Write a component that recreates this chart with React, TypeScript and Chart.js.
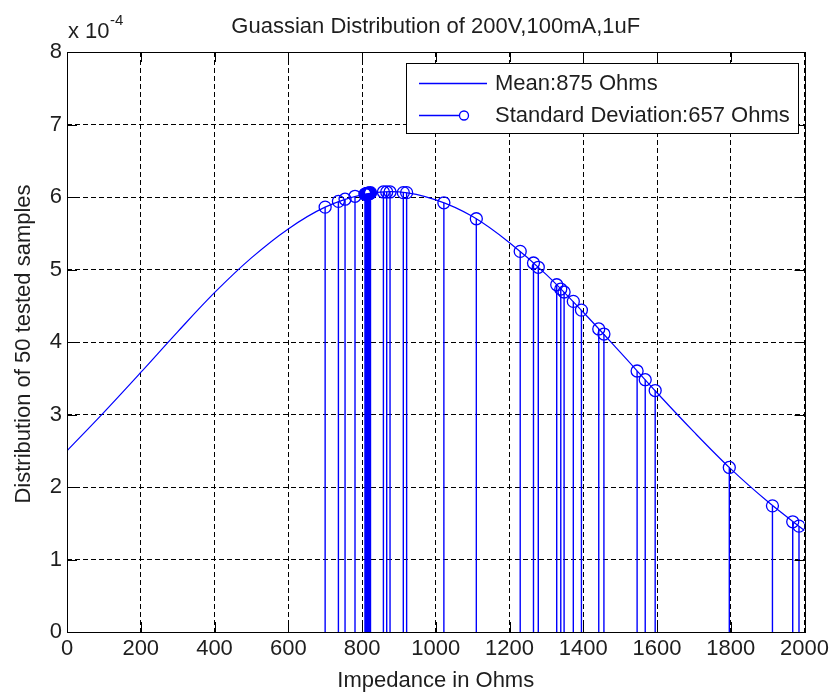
import React, { useEffect, useRef } from "react";
import { Chart, registerables } from "chart.js";

Chart.register(...registerables);

const TITLE = "Guassian Distribution of 200V,100mA,1uF";
const X_LABEL = "Impedance in Ohms";
const Y_LABEL = "Distribution of 50 tested samples";
const Y_EXP_BASE = "x 10";
const Y_EXP_POWER = "-4";
const LEGEND_MEAN = "Mean:875 Ohms";
const LEGEND_SD = "Standard Deviation:657 Ohms";

// Gaussian curve (y in units of 1e-4)
const curveX = [0, 100, 200, 300, 400, 500, 600, 700, 800, 900, 1000, 1100, 1200, 1300, 1400, 1500, 1600, 1700, 1800, 1900, 2000];
const curveY = [2.5, 3.03, 3.58, 4.14, 4.68, 5.16, 5.56, 5.86, 6.03, 6.07, 5.96, 5.73, 5.37, 4.93, 4.41, 3.86, 3.3, 2.76, 2.25, 1.8, 1.4];

// 50 tested samples (stems), y in units of 1e-4
const sampleX = [
  700, 736, 754, 781,
  808, 809, 810, 811, 812, 813, 814, 815, 816, 816, 817, 817, 818, 819, 820, 821, 822, 823,
  858, 867, 876, 912, 921, 1022, 1110, 1229, 1265, 1278, 1328, 1339, 1348, 1373, 1395, 1442, 1456,
  1546, 1568, 1595, 1796, 1913, 1968, 1985,
];
const sampleY = [
  5.86, 5.94, 5.97, 6.01,
  6.04, 6.04, 6.04, 6.04, 6.04, 6.05, 6.05, 6.05, 6.05, 6.05, 6.05, 6.05, 6.05, 6.05, 6.05, 6.05, 6.05, 6.06,
  6.07, 6.07, 6.07, 6.06, 6.06, 5.92, 5.7, 5.25, 5.09, 5.03, 4.79, 4.73, 4.69, 4.56, 4.44, 4.18, 4.11,
  3.6, 3.48, 3.33, 2.27, 1.74, 1.52, 1.46,
];

const xTicks = [0, 200, 400, 600, 800, 1000, 1200, 1400, 1600, 1800, 2000];
const yTicks = [0, 1, 2, 3, 4, 5, 6, 7, 8];

const BLUE = "#0000ff";
const FONT = '"Liberation Sans", Arial, sans-serif';
const TEXT = "#1e1e1e";

const decorPlugin = {
  id: "matlabDecor",
  afterDraw(chart: any) {
    const ctx = chart.ctx;
    const { left, right, top, bottom } = chart.chartArea;
    const xs = chart.scales.x;
    const ys = chart.scales.y;
    ctx.save();
    // box
    ctx.strokeStyle = "#000";
    ctx.lineWidth = 1;
    ctx.setLineDash([]);
    ctx.strokeRect(Math.round(left) + 0.5, Math.round(top) + 0.5, Math.round(right - left), Math.round(bottom - top));
    // inward ticks
    const tl = 10;
    ctx.beginPath();
    xTicks.forEach((v) => {
      const px = Math.round(xs.getPixelForValue(v)) + 0.5;
      ctx.moveTo(px, bottom);
      ctx.lineTo(px, bottom - tl);
      ctx.moveTo(px, top);
      ctx.lineTo(px, top + tl);
    });
    yTicks.forEach((v) => {
      const py = Math.round(ys.getPixelForValue(v)) + 0.5;
      ctx.moveTo(left, py);
      ctx.lineTo(left + tl, py);
      ctx.moveTo(right, py);
      ctx.lineTo(right - tl, py);
    });
    ctx.stroke();

    // title
    ctx.fillStyle = TEXT;
    ctx.font = `22px ${FONT}`;
    ctx.textAlign = "center";
    ctx.textBaseline = "alphabetic";
    ctx.fillText(TITLE, (left + right) / 2, 33);
    // x label
    ctx.fillText(X_LABEL, (left + right) / 2, 687);
    // y label
    ctx.save();
    ctx.translate(30, (top + bottom) / 2 + 2);
    ctx.rotate(-Math.PI / 2);
    ctx.fillText(Y_LABEL, 0, 0);
    ctx.restore();
    // exponent
    ctx.textAlign = "left";
    ctx.fillText(Y_EXP_BASE, 68, 38);
    const w = ctx.measureText(Y_EXP_BASE).width;
    ctx.font = `15px ${FONT}`;
    ctx.fillText(Y_EXP_POWER, 68 + w + 0.5, 25);

    // legend
    const lx = 406, ly = 63, lw = 392, lh = 70;
    ctx.fillStyle = "#fff";
    ctx.fillRect(lx, ly, lw, lh);
    ctx.strokeStyle = "#000";
    ctx.lineWidth = 1;
    ctx.strokeRect(lx + 0.5, ly + 0.5, lw, lh);
    const row1 = 83, row2 = 115;
    ctx.strokeStyle = BLUE;
    ctx.lineWidth = 1.3;
    ctx.beginPath();
    ctx.moveTo(419, row1 + 0.5);
    ctx.lineTo(487, row1 + 0.5);
    ctx.moveTo(419, row2 + 0.5);
    ctx.lineTo(459, row2 + 0.5);
    ctx.stroke();
    ctx.beginPath();
    ctx.arc(464, row2 + 0.5, 4.5, 0, Math.PI * 2);
    ctx.stroke();
    ctx.fillStyle = TEXT;
    ctx.font = `22px ${FONT}`;
    ctx.textBaseline = "middle";
    ctx.fillText(LEGEND_MEAN, 495, row1 + 1);
    ctx.fillText(LEGEND_SD, 495, row2 + 1);
    ctx.restore();
  },
};

export default function App() {
  const ref = useRef<HTMLCanvasElement | null>(null);

  useEffect(() => {
    if (!ref.current) return;
    const curveData = curveX.map((x, i) => ({ x, y: curveY[i] }));
    const stemData: any[] = [];
    sampleX.forEach((x, i) => {
      stemData.push({ x, y: 0 });
      stemData.push({ x, y: sampleY[i] });
      stemData.push({ x, y: null });
    });
    const markerData = sampleX.map((x, i) => ({ x, y: sampleY[i] }));

    const chart = new Chart(ref.current, {
      type: "line",
      data: {
        datasets: [
          {
            label: LEGEND_MEAN,
            data: curveData,
            borderColor: BLUE,
            borderWidth: 1.2,
            pointRadius: 0,
            tension: 0.35,
            fill: false,
          },
          {
            label: LEGEND_SD,
            data: stemData,
            borderColor: BLUE,
            borderWidth: 1.4,
            pointRadius: 0,
            spanGaps: false,
            fill: false,
          },
          {
            label: "markers",
            data: markerData,
            showLine: false,
            pointStyle: "circle",
            pointRadius: 6,
            pointBorderColor: BLUE,
            pointBackgroundColor: "rgba(0,0,0,0)",
            pointBorderWidth: 1.3,
          },
        ],
      },
      options: {
        responsive: false,
        animation: false,
        devicePixelRatio: 1,
        events: [],
        layout: { padding: { top: 52, right: 25, left: 0, bottom: 0 } },
        plugins: {
          legend: { display: false },
          tooltip: { enabled: false },
          title: { display: false },
        },
        scales: {
          x: {
            type: "linear",
            min: 0,
            max: 2000,
            afterBuildTicks: (s: any) => {
              s.ticks = xTicks.map((v) => ({ value: v }));
            },
            afterFit: (s: any) => {
              s.height = 60;
            },
            ticks: {
              color: TEXT,
              font: { family: FONT, size: 22 },
              padding: 4,
              maxRotation: 0,
              autoSkip: false,
              callback: (v: any) => String(v),
            },
            grid: { color: "#000", lineWidth: 1, drawTicks: false },
            border: { display: false, dash: [5, 3] },
          },
          y: {
            type: "linear",
            min: 0,
            max: 8,
            afterBuildTicks: (s: any) => {
              s.ticks = yTicks.map((v) => ({ value: v }));
            },
            afterFit: (s: any) => {
              s.width = 67;
            },
            ticks: {
              color: TEXT,
              font: { family: FONT, size: 22 },
              padding: 5,
              autoSkip: false,
              callback: (v: any) => String(v),
            },
            grid: { color: "#000", lineWidth: 1, drawTicks: false },
            border: { display: false, dash: [5, 3] },
          },
        },
      },
      plugins: [decorPlugin],
    });
    return () => chart.destroy();
  }, []);

  return (
    <div style={{ position: "absolute", left: 0, top: 0, width: 833, height: 692, background: "#fff" }}>
      <canvas ref={ref} width={833} height={692} style={{ display: "block", width: 833, height: 692 }} />
    </div>
  );
}
